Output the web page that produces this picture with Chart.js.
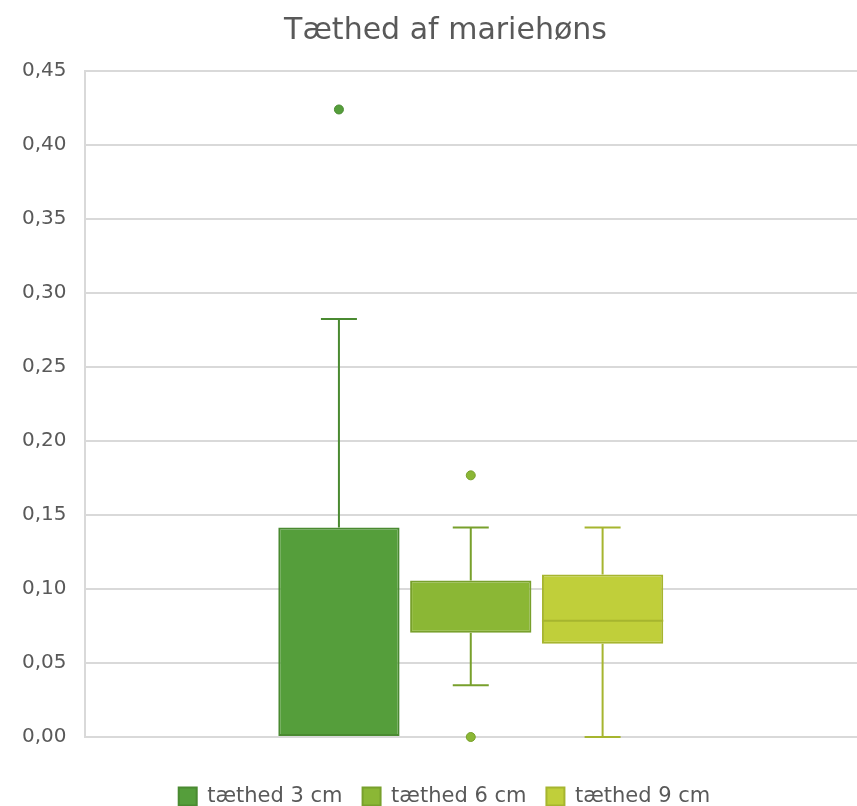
<!DOCTYPE html>
<html>
<head>
<meta charset="utf-8">
<script src="https://cdn.jsdelivr.net/npm/chart.js@4/dist/chart.umd.min.js"></script>
<style>
  html, body { margin: 0; padding: 0; background: #ffffff; }
  #wrap { width: 857px; height: 806px; position: relative; }
</style>
</head>
<body>
<div id="wrap"><canvas id="c"></canvas></div>
<script>
// Box plot summary for each series (density of ladybirds)
const seriesNames = ['tæthed 3 cm', 'tæthed 6 cm', 'tæthed 9 cm'];
const whiskerLow  = [0.000, 0.035, 0.000];
const quartile1   = [0.000, 0.0705, 0.063];
const medians     = [0.000, 0.0705, 0.0786];
const quartile3   = [0.1416, 0.1057, 0.1098];
const whiskerHigh = [0.2825, 0.1416, 0.1416];
const outliers    = [[0.424], [0.1768, 0.000], []];
const yTicks      = [0, 0.05, 0.10, 0.15, 0.20, 0.25, 0.30, 0.35, 0.40, 0.45];

const fills   = ['#559E3B', '#8BB735', '#C0CF3A'];
const borders = ['#4A8A31', '#78A02C', '#A6B52F'];
const FONT = 'DejaVu Sans';

const datasets = seriesNames.map((name, i) => ({
  label: name,
  data: [[quartile1[i], quartile3[i]]],
  backgroundColor: fills[i],
  borderColor: borders[i],
  borderWidth: 2,
  borderSkipped: false,
  categoryPercentage: 0.512,
  barPercentage: 0.92
}));

// Whiskers, caps, medians and outlier dots placed on each box
const boxPlotExtras = {
  id: 'boxPlotExtras',
  afterLayout(chart) {
    // centre title and legend a little to the right, over the plot
    const lg = chart.legend;
    lg.left += 14; lg.right += 14;
    lg.top += 11; lg.bottom += 11;
    const tb = chart.titleBlock;
    tb.left += 15; tb.right += 15;
  },
  beforeDatasetsDraw(chart) {
    const y = chart.scales.y;
    const ctx = chart.ctx;
    ctx.save();
    chart.data.datasets.forEach((ds, i) => {
      const bar = chart.getDatasetMeta(i).data[0];
      if (!bar) return;
      const cx = bar.x;
      const cap = 18;
      ctx.strokeStyle = borders[i];
      ctx.lineWidth = 2;
      const yLo = y.getPixelForValue(whiskerLow[i]);
      const yQ1 = y.getPixelForValue(quartile1[i]);
      const yQ3 = y.getPixelForValue(quartile3[i]);
      const yHi = y.getPixelForValue(whiskerHigh[i]);
      ctx.beginPath();
      if (whiskerHigh[i] > quartile3[i]) {
        ctx.moveTo(cx, yQ3); ctx.lineTo(cx, yHi);
        ctx.moveTo(cx - cap, yHi); ctx.lineTo(cx + cap, yHi);
      }
      if (whiskerLow[i] < quartile1[i]) {
        ctx.moveTo(cx, yQ1); ctx.lineTo(cx, yLo);
        ctx.moveTo(cx - cap, yLo); ctx.lineTo(cx + cap, yLo);
      }
      ctx.stroke();
    });
    ctx.restore();
  },
  afterDatasetsDraw(chart) {
    const y = chart.scales.y;
    const ctx = chart.ctx;
    ctx.save();
    chart.data.datasets.forEach((ds, i) => {
      const bar = chart.getDatasetMeta(i).data[0];
      if (!bar) return;
      const cx = bar.x;
      const half = bar.width / 2;
      if (medians[i] > quartile1[i] && medians[i] < quartile3[i]) {
        const ym = y.getPixelForValue(medians[i]);
        ctx.strokeStyle = borders[i];
        ctx.lineWidth = 2;
        ctx.beginPath();
        ctx.moveTo(cx - half, ym); ctx.lineTo(cx + half, ym);
        ctx.stroke();
      }
      ctx.fillStyle = fills[i];
      ctx.strokeStyle = borders[i];
      ctx.lineWidth = 1;
      outliers[i].forEach(v => {
        ctx.beginPath();
        ctx.arc(cx, y.getPixelForValue(v), 4.5, 0, Math.PI * 2);
        ctx.fill();
        ctx.stroke();
      });
    });
    ctx.restore();
  }
};

new Chart(document.getElementById('c'), {
  type: 'bar',
  data: { labels: [''], datasets },
  plugins: [boxPlotExtras],
  options: {
    responsive: true,
    maintainAspectRatio: false,
    animation: false,
    layout: { padding: { left: 4, right: 0, top: 13, bottom: 0 } },
    plugins: {
      title: {
        display: true,
        text: 'Tæthed af mariehøns',
        color: '#595959',
        font: { family: FONT, size: 30, weight: 'normal' },
        padding: { top: 0, bottom: 22 }
      },
      legend: {
        position: 'bottom',
        labels: {
          color: '#595959',
          font: { family: FONT, size: 21 },
          boxWidth: 18,
          boxHeight: 18,
          padding: 20
        }
      },
      tooltip: { enabled: false }
    },
    scales: {
      x: {
        grid: { display: false },
        border: { display: false },
        ticks: { display: false },
        afterFit(axis) { axis.height = 18; }
      },
      y: {
        min: 0,
        max: 0.45,
        afterBuildTicks(axis) { axis.ticks = yTicks.map(v => ({ value: v })); },
        ticks: {
          color: '#595959',
          font: { family: FONT, size: 20 },
          padding: 18,
          callback: v => v.toFixed(2).replace('.', ',')
        },
        grid: { color: '#D9D9D9', lineWidth: 2, drawTicks: false },
        border: { color: '#D9D9D9', width: 2 }
      }
    }
  }
});
</script>
</body>
</html>
